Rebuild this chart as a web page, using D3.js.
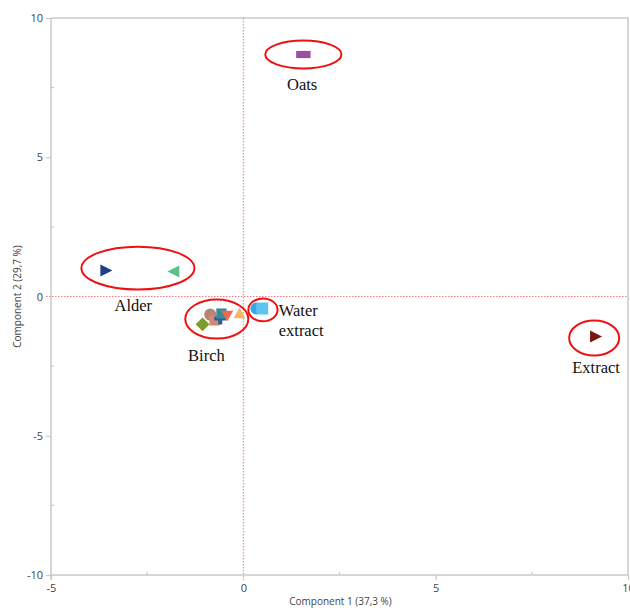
<!DOCTYPE html>
<html>
<head>
<meta charset="utf-8">
<script src="https://cdn.jsdelivr.net/npm/d3@7/dist/d3.min.js"></script>
<style>
  html, body { margin: 0; padding: 0; background: #fff; }
  svg { display: block; }
</style>
</head>
<body>
<svg id="chart" width="630" height="608"></svg>
<script>
// PCA score plot: component 1 vs component 2

const xTicks = [-5, 0, 5, 10];
const yTicks = [-10, -5, 0, 5, 10];
const xMinor = [-2.5, 2.5, 7.5];
const yMinor = [-7.5, -2.5, 2.5, 7.5];

// score points: name, component 1, component 2, shape, colour
const sampleNames = ["Alder 1", "Alder 2", "Oats", "Extract", "Water extract 1", "Water extract 2",
  "Birch 1", "Birch 2", "Birch 3", "Birch 4", "Birch 5", "Birch 6", "Birch 7"];
const comp1 = [-3.56, -1.82, 1.56, 9.17, 0.34, 0.49, -1.06, -0.86, -0.75, -0.60, -0.57, -0.42, -0.10];
const comp2 = [0.93, 0.90, 8.69, -1.44, -0.43, -0.43, -1.00, -0.65, -0.86, -0.79, -0.61, -0.68, -0.61];
const shapes = ["triRight", "triLeft", "rect", "triRight", "circle", "roundSquare",
  "diamond", "circle", "square", "plus", "square", "triDown", "triUp"];
const colors = ["#1f3f8a", "#5fbf8a", "#9a4fa0", "#7a1a0a", "#3aa8e0", "#5cc4ee",
  "#7d9a2c", "#b58474", "#d9876f", "#2c5f96", "#3a8c9a", "#ee6a4c", "#f2b866"];

// group annotations: ellipse centre/radii in data units, label position in data units
const groupNames = ["Oats", "Alder", "Birch", "Water\nextract", "Extract"];
const ellCx = [1.56, -2.74, -0.69, 0.51, 9.12];
const ellCy = [8.69, 1.02, -0.81, -0.48, -1.49];
const ellRx = [0.99, 1.47, 0.82, 0.38, 0.65];
const ellRy = [0.50, 0.77, 0.70, 0.41, 0.63];
const labelX = [1.53, -2.86, -0.96, 0.92, 9.17];
const labelY = [7.41, -0.53, -2.32, -0.69, -2.76];
const labelAnchor = ["middle", "middle", "middle", "start", "middle"];

const xTitle = "Component 1  (37,3 %)";
const yTitle = "Component 2  (29,7 %)";

const svg = d3.select("#chart");
const plotL = 51, plotR = 628, plotT = 18, plotB = 575;

const x = d3.scaleLinear().domain([-5, 10]).range([plotL, plotR]);
const y = d3.scaleLinear().domain([-10, 10]).range([plotB, plotT]);

const axisColor = "#c9c9c9";
const tickFont = "'Open Sans', 'Noto Sans', sans-serif";

// frame (top and right edges)
svg.append("path")
  .attr("d", `M${plotL},${plotT}H${plotR}V${plotB}`)
  .attr("fill", "none").attr("stroke", axisColor).attr("stroke-width", 1.5);

// zero reference lines
svg.append("line")
  .attr("x1", x(0)).attr("x2", x(0)).attr("y1", plotT).attr("y2", plotB + 5)
  .attr("stroke", "#f07c84").attr("stroke-width", 1).attr("stroke-dasharray", "1.5,1.5");
svg.append("line")
  .attr("x1", plotL - 5).attr("x2", plotR).attr("y1", y(0)).attr("y2", y(0))
  .attr("stroke", "#f07c84").attr("stroke-width", 1).attr("stroke-dasharray", "1.5,1.5");

// x axis
const gx = svg.append("g").attr("transform", `translate(0,${plotB})`)
  .call(d3.axisBottom(x).tickValues(xTicks).tickSize(5).tickPadding(4).tickFormat(d => String(d)));
// y axis
const gy = svg.append("g").attr("transform", `translate(${plotL},0)`)
  .call(d3.axisLeft(y).tickValues(yTicks).tickSize(5).tickPadding(3).tickFormat(d => String(d)));

[gx, gy].forEach(g => {
  g.select(".domain").attr("stroke", axisColor).attr("stroke-width", 1.5);
  g.selectAll(".tick line").attr("stroke", axisColor).attr("stroke-width", 1.2);
  g.selectAll(".tick text").attr("fill", "#444").attr("font-size", 11).attr("font-family", tickFont);
});
gx.select(".domain").attr("d", `M${plotL},0H${plotR}`);
gy.select(".domain").attr("d", `M0,${plotT}V${plotB + 5}`);
gx.selectAll(".tick").filter(d => d === 0).select("line").remove();
gy.selectAll(".tick").filter(d => d === 0).select("line").remove();

// minor ticks pointing inward
svg.append("g").selectAll("line").data(xMinor).join("line")
  .attr("x1", d => x(d)).attr("x2", d => x(d)).attr("y1", plotB).attr("y2", plotB - 3)
  .attr("stroke", axisColor).attr("stroke-width", 1.2);
svg.append("g").selectAll("line").data(yMinor).join("line")
  .attr("x1", plotL).attr("x2", plotL + 3).attr("y1", d => y(d)).attr("y2", d => y(d))
  .attr("stroke", axisColor).attr("stroke-width", 1.2);

// axis titles
svg.append("text").attr("x", (plotL + plotR) / 2 + 1).attr("y", 605)
  .attr("text-anchor", "middle").attr("font-size", 10).attr("fill", "#444")
  .attr("font-family", tickFont).text(xTitle);
svg.append("text").attr("transform", `translate(21,${y(0)}) rotate(-90)`)
  .attr("text-anchor", "middle").attr("font-size", 10).attr("fill", "#444")
  .attr("font-family", tickFont).text(yTitle);

// marker shapes
function shapePath(kind, s) {
  const h = s / 2;
  switch (kind) {
    case "triRight": return `M${-h},${-h}L${h},0L${-h},${h}Z`;
    case "triLeft": return `M${h},${-h}L${-h},0L${h},${h}Z`;
    case "triUp": return `M0,${-h}L${h},${h * 0.8}L${-h},${h * 0.8}Z`;
    case "triDown": return `M${-h},${-h * 0.8}L${h},${-h * 0.8}L0,${h}Z`;
    case "rect": return `M${-h * 1.2},${-h * 0.6}H${h * 1.2}V${h * 0.6}H${-h * 1.2}Z`;
    case "square": return `M${-h * 0.85},${-h * 0.85}H${h * 0.85}V${h * 0.85}H${-h * 0.85}Z`;
    case "roundSquare": return `M${-h + 3},${-h}H${h}V${h}H${-h + 3}A3,3 0 0 1 ${-h},${h - 3}V${-h + 3}A3,3 0 0 1 ${-h + 3},${-h}Z`;
    case "diamond": return `M0,${-h * 1.15}L${h * 1.15},0L0,${h * 1.15}L${-h * 1.15},0Z`;
    case "plus": { const t = s * 0.17; return `M${-t},${-h}H${t}V${-t}H${h}V${t}H${t}V${h}H${-t}V${t}H${-h}V${-t}H${-t}Z`; }
    default: return d3.symbol(d3.symbolCircle, s * s * 0.8)();
  }
}

const points = sampleNames.map((n, i) => ({ n, c1: comp1[i], c2: comp2[i], shape: shapes[i], color: colors[i] }));
svg.append("g").selectAll("path").data(points).join("path")
  .attr("transform", d => `translate(${x(d.c1)},${y(d.c2)})`)
  .attr("d", d => shapePath(d.shape, 12))
  .attr("fill", d => d.color);

// group ellipses
const groups = groupNames.map((n, i) => ({ n, cx: ellCx[i], cy: ellCy[i], rx: ellRx[i], ry: ellRy[i],
  lx: labelX[i], ly: labelY[i], anchor: labelAnchor[i] }));
svg.append("g").selectAll("ellipse").data(groups).join("ellipse")
  .attr("cx", d => x(d.cx)).attr("cy", d => y(d.cy))
  .attr("rx", d => x(d.cx + d.rx) - x(d.cx)).attr("ry", d => y(d.cy - d.ry) - y(d.cy))
  .attr("fill", "none").attr("stroke", "#ee1111").attr("stroke-width", 2);

// group labels
const lbl = svg.append("g").selectAll("text").data(groups).join("text")
  .attr("x", d => x(d.lx)).attr("y", d => y(d.ly))
  .attr("text-anchor", d => d.anchor)
  .attr("font-family", "'Liberation Serif', 'Times New Roman', serif")
  .attr("font-size", 16.5).attr("fill", "#111");
lbl.each(function (d) {
  d.n.split("\n").forEach((line, k) => {
    d3.select(this).append("tspan").attr("x", x(d.lx)).attr("dy", k === 0 ? 0 : 20).text(line);
  });
});
</script>
</body>
</html>
